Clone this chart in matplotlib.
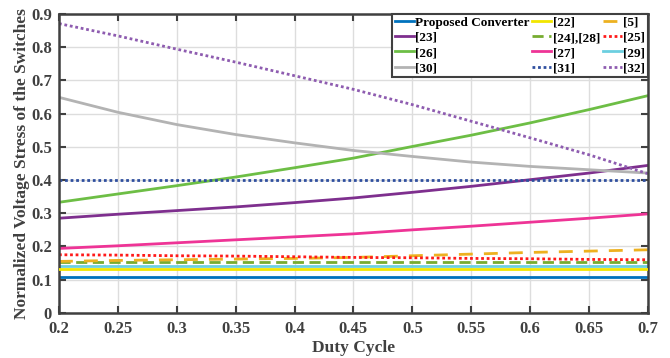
import matplotlib
matplotlib.use("Agg")
import matplotlib.pyplot as plt
import numpy as np

plt.rcParams['font.family'] = ['Liberation Serif', 'DejaVu Serif']
plt.rcParams['font.weight'] = 'bold'

D = [0.2, 0.25, 0.3, 0.35, 0.4, 0.45, 0.5, 0.55, 0.6, 0.65, 0.7]

proposed = [0.109] * 11
ref22 = [0.133] * 11
ref5 = [0.155, 0.158, 0.160, 0.162, 0.164, 0.167, 0.172, 0.177, 0.182, 0.186, 0.190]
ref23 = [0.285, 0.297, 0.308, 0.319, 0.332, 0.346, 0.363, 0.381, 0.401, 0.421, 0.444]
ref24_28 = [0.153] * 11
ref25 = [0.175, 0.174, 0.172, 0.171, 0.169, 0.167, 0.166, 0.164, 0.163, 0.161, 0.160]
ref26 = [0.333, 0.358, 0.383, 0.409, 0.437, 0.466, 0.501, 0.535, 0.572, 0.612, 0.654]
ref27 = [0.194, 0.202, 0.211, 0.220, 0.229, 0.238, 0.250, 0.261, 0.273, 0.285, 0.298]
ref29 = [0.142] * 11
ref30 = [0.649, 0.604, 0.567, 0.537, 0.512, 0.489, 0.471, 0.454, 0.441, 0.431, 0.421]
ref31 = [0.40] * 11
ref32 = [0.871, 0.834, 0.794, 0.755, 0.714, 0.673, 0.627, 0.577, 0.527, 0.476, 0.419]

xticks = [0.2, 0.25, 0.3, 0.35, 0.4, 0.45, 0.5, 0.55, 0.6, 0.65, 0.7]
xticklabels = ['0.2', '0.25', '0.3', '0.35', '0.4', '0.45', '0.5', '0.55', '0.6', '0.65', '0.7']
yticks = [0, 0.1, 0.2, 0.3, 0.4, 0.5, 0.6, 0.7, 0.8, 0.9]
yticklabels = ['0', '0.1', '0.2', '0.3', '0.4', '0.5', '0.6', '0.7', '0.8', '0.9']

fig = plt.figure(figsize=(6.7, 3.58), dpi=100)
ax = fig.add_axes([0.088, 0.126, 0.879, 0.835])

lw = 2.0
h = {}
h['p'], = ax.plot(D, proposed, color='#0072BD', lw=lw, label='Proposed Converter')
h['23'], = ax.plot(D, ref23, color='#7E2F8E', lw=lw, label='[23]')
h['26'], = ax.plot(D, ref26, color='#6DBE45', lw=lw, label='[26]')
h['30'], = ax.plot(D, ref30, color='#B3B3B3', lw=lw, label='[30]')
h['22'], = ax.plot(D, ref22, color='#F2E600', lw=lw, label='[22]')
h['2428'], = ax.plot(D, ref24_28, color='#77AC30', lw=lw, ls=(0, (4, 2)), label='[24],[28]')
h['27'], = ax.plot(D, ref27, color='#EE3496', lw=lw, label='[27]')
h['31'], = ax.plot(D, ref31, color='#2F4F9F', lw=lw, ls=(0, (1, 1)), label='[31]')
h['5'], = ax.plot(D, ref5, color='#EDB120', lw=lw, ls=(0, (5, 4)), label='[5]')
h['25'], = ax.plot(D, ref25, color='#FF1A1A', lw=lw, ls=(0, (1, 1)), label='[25]')
h['29'], = ax.plot(D, ref29, color='#6CCFE0', lw=lw, label='[29]')
h['32'], = ax.plot(D, ref32, color='#8E5CB0', lw=lw, ls=(0, (1, 1)), label='[32]')
h['22'].set_zorder(3)

ax.set_xlim(0.2, 0.7)
ax.set_ylim(0, 0.9)
ax.set_xticks(xticks)
ax.set_xticklabels(xticklabels)
ax.set_yticks(yticks)
ax.set_yticklabels(yticklabels)
ax.tick_params(direction='in', length=5, width=1.5, color='#404040', labelsize=12,
               top=True, right=True)
ax.tick_params(axis='x', pad=6)
ax.tick_params(axis='y', pad=5)
for lab in ax.get_xticklabels() + ax.get_yticklabels():
    lab.set_fontweight('bold')
    lab.set_color('#404040')
for s in ax.spines.values():
    s.set_linewidth(1.8)
    s.set_color('#404040')
ax.grid(True, color='#DDDDDD', lw=1.0)
ax.set_axisbelow(True)

ax.set_xlabel('Duty Cycle', fontsize=12.5, fontweight='bold', color='#404040', labelpad=2)
ax.set_ylabel('Normalized Voltage Stress of the Switches', fontsize=12.5, fontweight='bold',
              color='#404040', labelpad=1)

order = ['p', '23', '26', '30', '22', '2428', '27', '31', '5', '25', '29', '32']
leg = ax.legend([h[k] for k in order], [h[k].get_label() for k in order], ncol=3,
                loc='upper right', bbox_to_anchor=(1.0, 1.0), fancybox=False,
                framealpha=1, edgecolor='#404040', handlelength=1.45,
                handletextpad=0.1, columnspacing=0.2, labelspacing=0.22,
                borderpad=0.2, borderaxespad=0.0, prop={'weight': 'bold', 'size': 9.5})
leg.get_frame().set_linewidth(1.5)

fig.savefig('out.png', dpi=100)
